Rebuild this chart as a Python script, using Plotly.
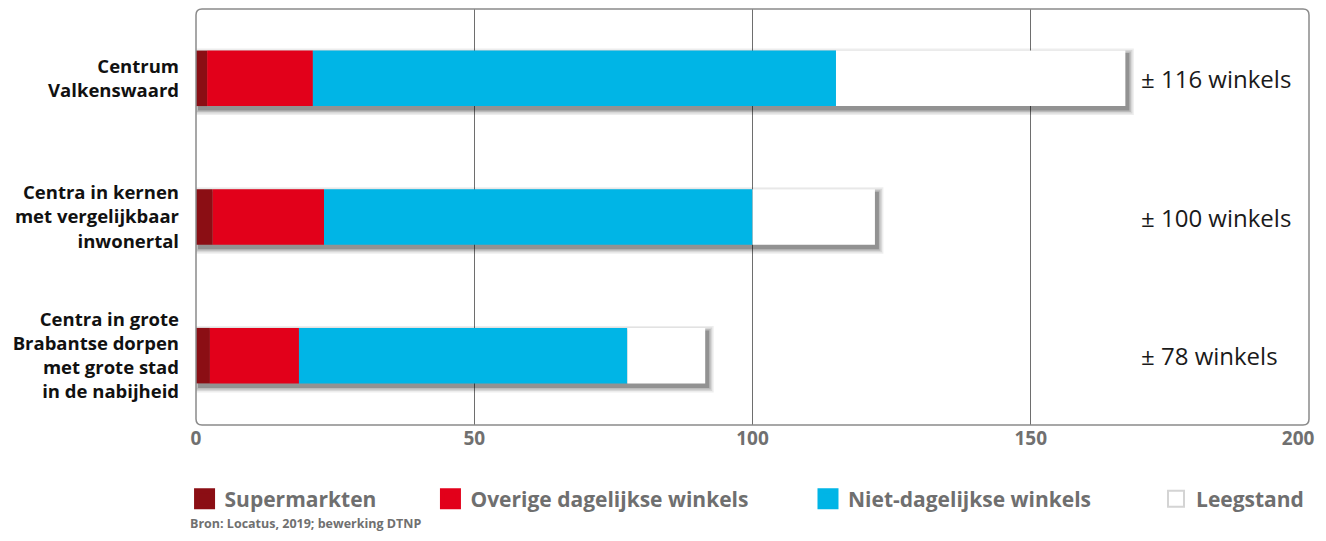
import plotly.graph_objects as go

categories = ["Centrum<br>Valkenswaard",
              "Centra in kernen<br>met vergelijkbaar<br>inwonertal",
              "Centra in grote<br>Brabantse dorpen<br>met grote stad<br>in de nabijheid"]
series_names = ["Supermarkten", "Overige dagelijkse winkels", "Niet-dagelijkse winkels", "Leegstand"]
supermarkten = [2, 3, 2.5]
overige = [19, 20, 16]
niet_dagelijks = [94, 77, 59]
leegstand = [52, 22, 14]
winkels_label = [116, 100, 78]
x_ticks = [0, 50, 100, 150, 200]

colors = ["#8B0E14", "#E2001A", "#00B5E6", "#FFFFFF"]
series = [supermarkten, overige, niet_dagelijks, leegstand]

FONT = "Open Sans"
# page has an 8px body margin; compensate so the plot lands where the reference has it
W, H = 1318, 525
ML, MR, MT = 188, 17, 1
plot_w = W - ML - MR
plot_h = 416
MB = H - MT - plot_h
ux = 200 / plot_w          # data units per px along x
uy = 3 / plot_h            # category units per px along y

def paper_y(page_y):
    return -((page_y - 8) - (plot_h + MT)) / plot_h

fig = go.Figure()

totals = [sum(v) for v in zip(*series)]
# soft drop shadow layers (same totals, shifted)
dx, dy = 3.0, 3.5
for s, op in [(5.5, 0.07), (4, 0.09), (2.5, 0.13), (1, 0.22)]:
    fig.add_trace(go.Bar(
        y=categories, x=[t + 2 * s * ux for t in totals],
        base=[(dx - s) * ux] * len(totals), orientation="h",
        width=0.4 + 2 * s * uy, offset=-0.2 + (dy - s) * uy,
        marker=dict(color=f"rgba(0,0,0,{op})", line=dict(width=0)),
        showlegend=False, hoverinfo="skip"))

cum = [0] * len(categories)
for name, vals, col in zip(series_names, series, colors):
    fig.add_trace(go.Bar(
        y=categories, x=vals, base=list(cum), orientation="h", name=name,
        width=0.4, offset=-0.2,
        marker=dict(color=col, line=dict(width=0)), showlegend=False))
    cum = [c + v for c, v in zip(cum, vals)]

# legend entries
pads = [9, 10, 11, 0]
for name, col, p in zip(series_names, colors, pads):
    is_white = col == "#FFFFFF"
    fig.add_trace(go.Scatter(
        x=[None], y=[None], mode="markers", name=name + "\u00a0" * p,
        marker=dict(symbol="square", size=16, color=col,
                    line=dict(color="#d4d4d4" if is_white else col, width=2 if is_white else 5))))

for cat, n in zip(categories, winkels_label):
    fig.add_annotation(x=169.5, y=cat, text=f"± {n} winkels", showarrow=False,
                       xanchor="left", yanchor="middle",
                       font=dict(family=FONT, size=24, color="#1a1a1a"))

fig.add_annotation(xref="paper", yref="paper", x=-0.007, y=paper_y(523),
                   xanchor="left", yanchor="middle",
                   text="<b>Bron: Locatus, 2019; bewerking DTNP</b>", showarrow=False,
                   font=dict(family=FONT, size=12.5, color="#707070"))

# rounded frame
r = 6 / plot_w
ry = 6 / plot_h
fig.add_shape(type="path", xref="paper", yref="paper",
              path=(f"M {r},0 L {1-r},0 Q 1,0 1,{ry} L 1,{1-ry} Q 1,1 {1-r},1 "
                    f"L {r},1 Q 0,1 0,{1-ry} L 0,{ry} Q 0,0 {r},0 Z"),
              line=dict(color="#8a8a8a", width=1.5), layer="above")

# last tick label nudged left (as in the reference) with an invisible trailing pad
tick_text = [str(v) for v in x_ticks]
tick_text[-1] = tick_text[-1] + "<span style='color:rgba(0,0,0,0)'>00</span>"

fig.update_layout(
    width=W, height=H,
    margin=dict(l=ML, r=MR, t=MT, b=MB, autoexpand=False),
    barmode="overlay",
    plot_bgcolor="white", paper_bgcolor="white",
    font=dict(family=FONT),
    showlegend=True,
    legend=dict(orientation="h", x=1.0005, xanchor="right",
                y=paper_y(499), yanchor="middle",
                font=dict(family=FONT, size=21, color="#6f6f6f", weight="bold"),
                itemwidth=30, tracegroupgap=0, bgcolor="rgba(0,0,0,0)"),
    xaxis=dict(range=[0, 200], tickvals=x_ticks, ticktext=tick_text, ticklabeloverflow="allow",
               automargin=False,
               showgrid=True, gridcolor="#6e6e6e", gridwidth=1,
               zeroline=False, showline=False, ticks="",
               tickfont=dict(family=FONT, size=19, color="#707070", weight="bold")),
    yaxis=dict(autorange="reversed", showgrid=False, zeroline=False, showline=False, ticks="",
               ticklabelstandoff=16, automargin=False,
               tickfont=dict(family=FONT, size=18.5, color="#111111", weight="bold")),
)
fig.write_html("out.html")
